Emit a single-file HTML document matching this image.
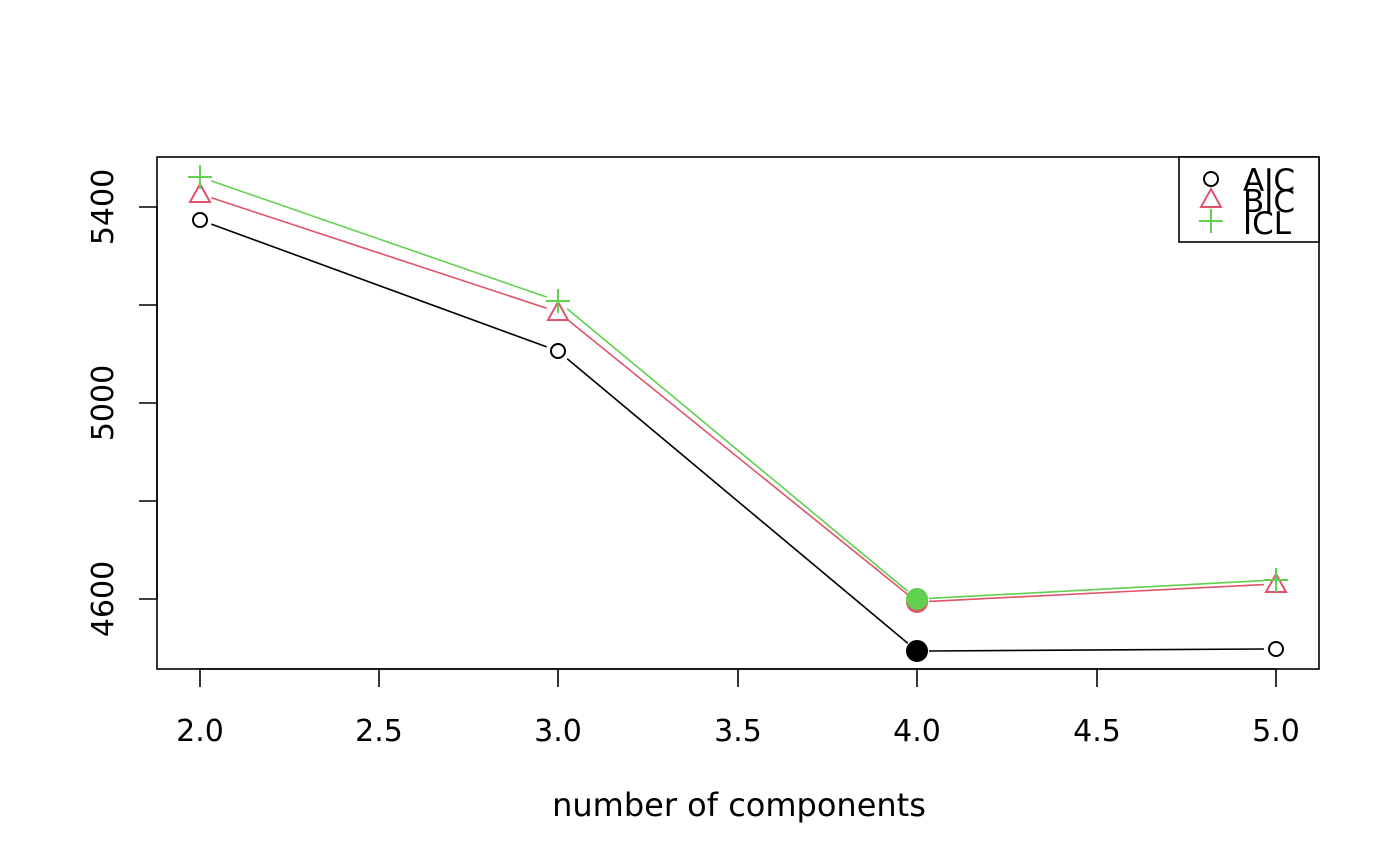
<!DOCTYPE html>
<html><head><style>body{margin:0;background:#fff}svg{display:block}</style></head><body>
<svg width="1400" height="866" xmlns="http://www.w3.org/2000/svg" font-family="DejaVu Sans, Liberation Sans, sans-serif">
<rect width="1400" height="866" fill="#fff"/>
<rect x="157" y="157" width="1162" height="512" fill="none" stroke="#000" stroke-width="1.6"/>
<g stroke="#000" stroke-width="1.6">
<line x1="200" y1="669" x2="1276" y2="669"/>
<line x1="200" y1="669" x2="200" y2="687"/><line x1="379" y1="669" x2="379" y2="687"/><line x1="558" y1="669" x2="558" y2="687"/><line x1="738" y1="669" x2="738" y2="687"/><line x1="917" y1="669" x2="917" y2="687"/><line x1="1097" y1="669" x2="1097" y2="687"/><line x1="1276" y1="669" x2="1276" y2="687"/>
<line x1="157" y1="207" x2="157" y2="599"/>
<line x1="139" y1="207" x2="157" y2="207"/><line x1="139" y1="305" x2="157" y2="305"/><line x1="139" y1="403" x2="157" y2="403"/><line x1="139" y1="501" x2="157" y2="501"/><line x1="139" y1="599" x2="157" y2="599"/>
</g>
<g font-size="30" text-anchor="middle">
<text x="200" y="741">2.0</text><text x="379" y="741">2.5</text><text x="558" y="741">3.0</text><text x="738" y="741">3.5</text><text x="917" y="741">4.0</text><text x="1097" y="741">4.5</text><text x="1276" y="741">5.0</text>
<text x="739" y="816" font-size="32">number of components</text>
<text transform="translate(113,207) rotate(-90)">5400</text>
<text transform="translate(113,403) rotate(-90)">5000</text>
<text transform="translate(113,599) rotate(-90)">4600</text>
</g>
<g fill="none" stroke-width="1.6">
<path stroke="#000" d="M211.3,224.1L546.7,346.9M567.2,358.7L907.8,643.3M929,651L1264,649"/>
<path stroke="#DF536B" d="M211.4,197.8L546.6,308.2M567.3,319.5L907.7,594.5M929,601.4L1264,584.6"/>
<path stroke="#61D04F" d="M211.3,180.9L546.7,297.1M567.2,308.7L907.8,591.3M929,598.4L1264,580.6"/>
</g>
<g stroke-width="2" fill="none">
<circle cx="200" cy="220" r="7" stroke="#000"/>
<circle cx="558" cy="351" r="7" stroke="#000"/>
<circle cx="1276" cy="649" r="7" stroke="#000"/>
<circle cx="917" cy="651" r="10" fill="#000" stroke="#000"/>
<polygon points="200,184 210,202 190,202" stroke="#DF536B"/>
<polygon points="558,302 568,320 548,320" stroke="#DF536B"/>
<polygon points="1276,574 1286,592 1266,592" stroke="#DF536B"/>
<circle cx="917" cy="602" r="10" fill="#DF536B" stroke="#DF536B"/>
<path d="M188,177h24M200,165v24M546,301h24M558,289v24M1264,580h24M1276,568v24" stroke="#61D04F"/>
<circle cx="917" cy="599" r="10" fill="#61D04F" stroke="#61D04F"/>
</g>
<rect x="1179" y="157" width="140" height="85" fill="#fff" stroke="#000" stroke-width="1.6"/>
<circle cx="1211" cy="179" r="7" fill="none" stroke="#000" stroke-width="2"/>
<polygon points="1211,189 1221,207 1201,207" fill="none" stroke="#DF536B" stroke-width="2"/>
<path d="M1199,221h24M1211,209v24" stroke="#61D04F" stroke-width="2"/>
<g font-size="31"><text x="1243" y="191">AIC</text><text x="1243" y="212">BIC</text><text x="1243" y="234">ICL</text></g>
</svg>
</body></html>
